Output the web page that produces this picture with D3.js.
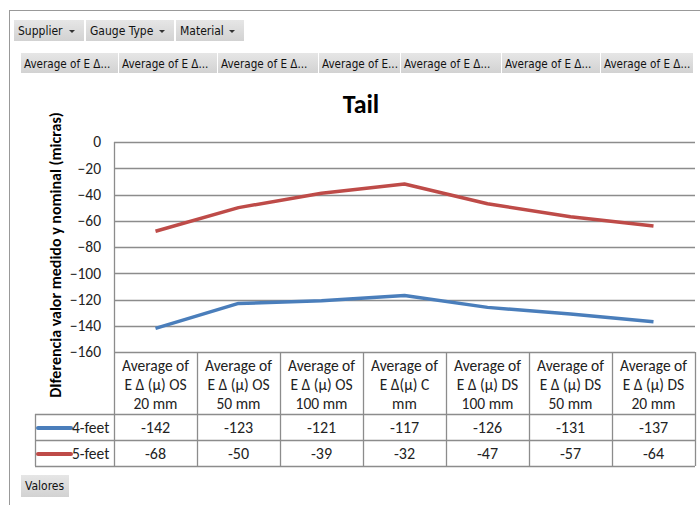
<!DOCTYPE html>
<html><head><meta charset="utf-8">
<script src="https://cdn.jsdelivr.net/npm/d3@7"></script>
<style>
body{margin:0;background:#fff;}
svg{display:block;}
</style></head>
<body>
<svg id="c" width="700" height="505"></svg>
<script>
const categories = [
  ["Average of","E Δ (μ) OS","20 mm"],
  ["Average of","E Δ (μ) OS","50 mm"],
  ["Average of","E Δ (μ) OS","100 mm"],
  ["Average of","E Δ(μ) C","mm"],
  ["Average of","E Δ (μ) DS","100 mm"],
  ["Average of","E Δ (μ) DS","50 mm"],
  ["Average of","E Δ (μ) DS","20 mm"]
];
const seriesNames = ["4-feet","5-feet"];
const feet4 = [-142,-123,-121,-117,-126,-131,-137];
const feet5 = [-68,-50,-39,-32,-47,-57,-64];
const yTicks = [0,-20,-40,-60,-80,-100,-120,-140,-160];
const filterLabels = ["Supplier","Gauge Type","Material"];
const headerLabels = ["Average of E Δ...","Average of E Δ...","Average of E Δ...","Average of E...","Average of E Δ...","Average of E Δ...","Average of E Δ..."];
const colors = ["#4a7ebb","#be4b48"];
const series = [feet4, feet5];

const svg = d3.select("#c");
const tfont = "Tahoma, 'DejaVu Sans Condensed', 'DejaVu Sans', sans-serif";
const cfont = "Carlito, Lato, 'Open Sans', sans-serif";

svg.append("line").attr("x1",9).attr("x2",700).attr("y1",10.5).attr("y2",10.5).attr("stroke","#999");
svg.append("line").attr("x1",9.5).attr("x2",9.5).attr("y1",10).attr("y2",505).attr("stroke","#999");

const defs = svg.append("defs");
const g = defs.append("linearGradient").attr("id","btn").attr("x1",0).attr("x2",0).attr("y1",0).attr("y2",1);
g.append("stop").attr("offset","0%").attr("stop-color","#e6e6e6");
g.append("stop").attr("offset","100%").attr("stop-color","#d2d2d2");

const fx = [14, 86, 176], fw = [70, 88, 68];
filterLabels.forEach((t,i)=>{
  svg.append("rect").attr("x",fx[i]).attr("y",20).attr("width",fw[i]).attr("height",21).attr("fill","url(#btn)");
  svg.append("text").attr("x",fx[i]+4).attr("y",35).attr("font-family",tfont).attr("font-size",12).attr("fill","#111").text(t);
  const ax = fx[i]+fw[i]-12;
  svg.append("path").attr("d",`M${ax-3},30 L${ax+3},30 L${ax},33 Z`).attr("fill","#333");
});

const hx = [21,119,218,319,401,502,601,694];
headerLabels.forEach((t,i)=>{
  svg.append("rect").attr("x",hx[i]).attr("y",53).attr("width",hx[i+1]-hx[i]-1).attr("height",20).attr("fill","url(#btn)");
  svg.append("text").attr("x",hx[i]+3).attr("y",68).attr("font-family",tfont).attr("font-size",11.6).attr("fill","#111").text(t);
});

const pLeft = 114, pRight = 695, pTop = 142, pBottom = 352;
const y = d3.scaleLinear().domain([-160,0]).range([pBottom, pTop]);
const x = d3.scaleBand().domain(d3.range(categories.length)).range([pLeft,pRight]);

svg.append("text").attr("x",361).attr("y",113).attr("text-anchor","middle")
  .attr("font-family",cfont).attr("font-size",26).attr("font-weight","bold").attr("fill","#000").text("Tail");

svg.append("g").selectAll("line").data(yTicks).join("line")
  .attr("x1",pLeft).attr("x2",pRight).attr("y1",d=>Math.round(y(d))+0.5).attr("y2",d=>Math.round(y(d))+0.5)
  .attr("stroke","#8c8c8c").attr("stroke-width",1.3);

const yAxis = d3.axisLeft(y).tickValues(yTicks).tickSize(0).tickPadding(13);
const ya = svg.append("g").attr("transform",`translate(${pLeft},0)`).call(yAxis);
ya.select(".domain").remove();
ya.selectAll("text").attr("font-family",cfont).attr("font-size",15.5).attr("fill","#222");

svg.append("text").attr("transform","translate(61,255) rotate(-90)").attr("text-anchor","middle")
  .attr("font-family",cfont).attr("font-size",16).attr("font-weight","bold").attr("fill","#000")
  .text("DIferencia valor medido y nominal (micras)");

const tb = svg.append("g").attr("stroke","#8c8c8c").attr("stroke-width",1.3).attr("fill","none");
const r1 = 414, r2 = 440, r3 = 466;
tb.append("line").attr("x1",pLeft+0.5).attr("x2",pLeft+0.5).attr("y1",pTop).attr("y2",r3);
d3.range(1,categories.length+1).forEach(i=>{
  const xx = Math.round(x(i-1)+x.bandwidth())+0.5;
  tb.append("line").attr("x1",xx).attr("x2",xx).attr("y1",pBottom).attr("y2",r3);
});
[r1,r2,r3].forEach(r=>{
  tb.append("line").attr("x1",35).attr("x2",pRight).attr("y1",r+0.5).attr("y2",r+0.5);
});
tb.append("line").attr("x1",35.5).attr("x2",35.5).attr("y1",r1).attr("y2",r3);

categories.forEach((lines,i)=>{
  const cx = x(i)+x.bandwidth()/2;
  lines.forEach((l,j)=>{
    svg.append("text").attr("x",cx).attr("y",371+j*19).attr("text-anchor","middle")
      .attr("font-family",cfont).attr("font-size",15.5).attr("fill","#222").text(l);
  });
});

series.forEach((s,k)=>{
  const ry = k===0 ? r1 : r2;
  svg.append("line").attr("x1",38).attr("x2",71).attr("y1",ry+14).attr("y2",ry+14)
    .attr("stroke",colors[k]).attr("stroke-width",4).attr("stroke-linecap","round");
  svg.append("text").attr("x",72).attr("y",ry+19).attr("font-family",cfont).attr("font-size",15.5).attr("fill","#222").text(seriesNames[k]);
  s.forEach((v,i)=>{
    svg.append("text").attr("x",x(i)+x.bandwidth()/2).attr("y",ry+19).attr("text-anchor","middle")
      .attr("font-family",cfont).attr("font-size",16).attr("fill","#222").text(v);
  });
});

const line = d3.line().x((d,i)=>x(i)+x.bandwidth()/2).y(d=>y(d));
series.forEach((s,k)=>{
  svg.append("path").datum(s).attr("d",line).attr("fill","none").attr("stroke",colors[k])
    .attr("stroke-width",3.5).attr("stroke-linejoin","round");
});

svg.append("rect").attr("x",21).attr("y",475).attr("width",48).attr("height",22).attr("fill","url(#btn)");
svg.append("text").attr("x",25).attr("y",490).attr("font-family",tfont).attr("font-size",12).attr("fill","#111").text("Valores");
</script>
</body></html>
